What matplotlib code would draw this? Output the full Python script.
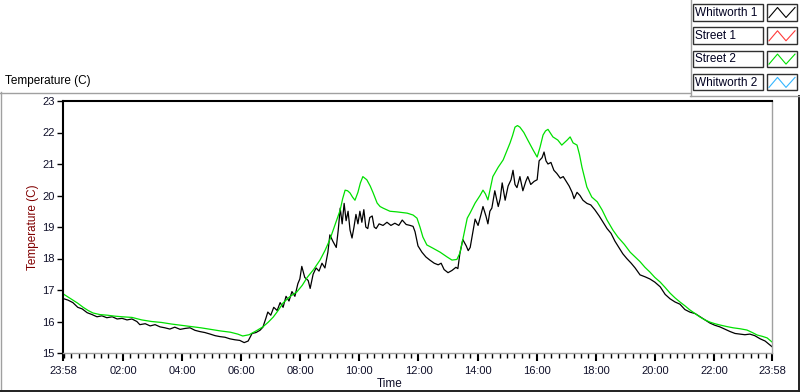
import numpy as np
import matplotlib.pyplot as plt
from matplotlib.patches import Rectangle

plt.rcParams['font.family'] = ['Liberation Sans', 'DejaVu Sans']

# minutes since 23:58 and temperature (C)
black_min = [0, 10, 20, 30, 39, 49, 59, 69, 79, 89, 100, 110, 120, 130, 140, 150, 156,
             167, 177, 187, 197, 207, 217, 227, 238, 248, 258, 268, 278, 288, 299, 309,
             319, 329, 339, 349, 359, 368, 376, 384, 392, 400, 406, 412, 416, 422, 428,
             435, 441, 447, 453, 459, 465, 471, 477, 481, 485, 491, 498, 502, 508, 514,
             520, 526, 532, 538, 542, 548, 555, 559, 563, 567, 571, 575, 579, 583, 587,
             591, 595, 599, 603, 607, 611, 615, 619, 623, 628, 632, 636, 642, 650, 658,
             666, 674, 682, 689, 697, 705, 711, 715, 721, 729, 737, 745, 754, 762, 768,
             774, 782, 790, 798, 802, 806, 812, 819, 823, 827, 833, 837, 843, 849, 853,
             859, 863, 867, 871, 877, 884, 888, 892, 898, 904, 910, 914, 918, 922, 928,
             934, 940, 944, 950, 957, 963, 967, 973, 977, 981, 985, 991, 997, 1003, 1010,
             1016, 1022, 1028, 1034, 1038, 1044, 1050, 1056, 1064, 1072, 1080, 1089, 1097,
             1105, 1113, 1121, 1129, 1137, 1145, 1154, 1162, 1172, 1182, 1192, 1202, 1213,
             1223, 1233, 1243, 1253, 1263, 1273, 1284, 1294, 1304, 1314, 1324, 1334, 1345,
             1355, 1365, 1375, 1385, 1395, 1405, 1416, 1426, 1436, 1440]
black_temp = [16.73, 16.68, 16.6, 16.45, 16.4, 16.28, 16.22, 16.15, 16.18, 16.12, 16.15,
              16.08, 16.1, 16.05, 16.08, 16.0, 15.9, 15.93, 15.86, 15.9, 15.83, 15.8, 15.76,
              15.82, 15.75, 15.78, 15.8, 15.72, 15.68, 15.65, 15.6, 15.55, 15.52, 15.5,
              15.45, 15.42, 15.4, 15.33, 15.38, 15.62, 15.65, 15.72, 15.82, 16.1, 16.3,
              16.2, 16.45, 16.35, 16.6, 16.45, 16.8, 16.65, 16.95, 16.8, 17.2, 17.35, 17.75,
              17.4, 17.3, 17.05, 17.5, 17.7, 17.6, 17.85, 17.7, 18.2, 18.75, 18.55, 18.35,
              18.9, 19.6, 19.1, 19.75, 19.2, 19.5, 18.9, 18.65, 19.0, 19.4, 19.1, 19.5,
              19.15, 19.55, 19.0, 18.95, 19.3, 19.35, 19.0, 18.95, 19.1, 19.05, 19.15, 19.05,
              19.12, 19.05, 19.22, 19.08, 19.05, 19.02, 18.85, 18.4, 18.2, 18.05, 17.95,
              17.85, 17.8, 17.85, 17.65, 17.55, 17.62, 17.72, 17.68, 18.15, 18.6, 18.4,
              18.25, 18.35, 18.9, 19.25, 19.05, 19.4, 19.65, 19.35, 19.1, 19.5, 19.6, 20.15,
              19.65, 19.9, 20.4, 19.85, 20.3, 20.5, 20.8, 20.35, 20.25, 20.6, 20.15, 20.45,
              20.6, 20.35, 20.45, 20.5, 21.1, 21.2, 21.38, 21.1, 21.0, 21.05, 20.8, 20.7,
              20.55, 20.6, 20.45, 20.3, 20.1, 19.9, 20.1, 20.0, 19.85, 19.75, 19.7, 19.55,
              19.35, 19.15, 18.95, 18.8, 18.55, 18.35, 18.15, 18.0, 17.85, 17.7, 17.48,
              17.42, 17.35, 17.25, 17.1, 16.86, 16.72, 16.62, 16.55, 16.38, 16.3, 16.25,
              16.15, 16.05, 15.95, 15.88, 15.83, 15.75, 15.68, 15.62, 15.6, 15.58, 15.6,
              15.55, 15.45, 15.38, 15.25, 15.2]

green_min = [0, 10, 20, 30, 41, 51, 61, 75, 90, 105, 120, 140, 160, 180, 200, 220, 240,
             260, 280, 300, 320, 340, 355, 365, 378, 392, 406, 417, 427, 437, 447, 460,
             475, 486, 496, 509, 522, 532, 542, 552, 563, 568, 573, 578, 583, 588, 593,
             599, 604, 609, 617, 624, 630, 638, 644, 650, 664, 678, 699, 711, 719, 725,
             731, 739, 751, 766, 780, 790, 800, 806, 812, 821, 827, 837, 847, 853, 858,
             863, 873, 884, 894, 901, 908, 913, 918, 923, 928, 936, 944, 955, 963, 969,
             975, 980, 985, 995, 1005, 1013, 1024, 1030, 1036, 1044, 1049, 1054, 1064,
             1074, 1085, 1095, 1105, 1117, 1127, 1140, 1152, 1162, 1172, 1182, 1192, 1202,
             1213, 1223, 1233, 1243, 1253, 1263, 1273, 1284, 1294, 1304, 1314, 1324, 1334,
             1348, 1361, 1375, 1389, 1400, 1410, 1420, 1430, 1440]
green_temp = [16.88, 16.78, 16.68, 16.58, 16.45, 16.35, 16.27, 16.22, 16.2, 16.17, 16.15,
              16.13, 16.05, 16.0, 15.97, 15.92, 15.88, 15.84, 15.8, 15.75, 15.7, 15.66,
              15.6, 15.54, 15.58, 15.7, 15.83, 15.98, 16.14, 16.35, 16.59, 16.78, 16.94,
              17.15, 17.4, 17.65, 17.95, 18.25, 18.6, 19.05, 19.54, 19.9, 20.17, 20.15,
              20.08, 19.95, 19.85, 20.1, 20.4, 20.6, 20.5, 20.3, 20.08, 19.76, 19.65, 19.6,
              19.5, 19.48, 19.44, 19.38, 19.28, 19.0, 18.68, 18.43, 18.33, 18.2, 18.05,
              17.95, 17.97, 18.17, 18.6, 19.28, 19.45, 19.76, 20.0, 20.17, 20.05, 19.86,
              20.6, 20.9, 21.13, 21.4, 21.67, 21.9, 22.17, 22.22, 22.17, 22.0, 21.76, 21.44,
              21.22, 21.54, 21.92, 22.05, 22.1, 21.86, 21.76, 21.6, 21.76, 21.86, 21.67,
              21.6, 21.3, 20.9, 20.27, 19.95, 19.8, 19.54, 19.22, 18.9, 18.68, 18.45, 18.2,
              18.05, 17.9, 17.72, 17.57, 17.4, 17.25, 17.08, 16.9, 16.75, 16.62, 16.5,
              16.37, 16.25, 16.14, 16.05, 15.98, 15.93, 15.89, 15.84, 15.8, 15.77, 15.73,
              15.65, 15.57, 15.53, 15.48, 15.35]

series_names = ["Whitworth 1", "Street 1", "Street 2", "Whitworth 2"]
series_colors = ["#000000", "#ff3a3a", "#00e000", "#33b5ff"]

tick_min = [0, 122, 242, 362, 482, 602, 722, 842, 962, 1082, 1202, 1322, 1440]
tick_labels = ["23:58", "02:00", "04:00", "06:00", "08:00", "10:00", "12:00",
               "14:00", "16:00", "18:00", "20:00", "22:00", "23:58"]

fig = plt.figure(figsize=(8, 3.92), dpi=100)

# frame / legend layer in pixel coordinates
ov = fig.add_axes([0, 0, 1, 1])
ov.set_xlim(0, 800)
ov.set_ylim(392, 0)
ov.axis('off')
ov.plot([0, 690], [92.5, 92.5], color='#a0a0a0', lw=1)
ov.plot([0.5, 0.5], [92, 392], color='#a0a0a0', lw=1)
ov.plot([0, 800], [391.3, 391.3], color='#202020', lw=1.4)
ov.plot([799.3, 799.3], [96, 392], color='#202020', lw=1.4)
ov.plot([690.5, 690.5], [0, 96], color='#a0a0a0', lw=1)
ov.plot([690, 800], [95.5, 95.5], color='#a0a0a0', lw=1)
ov.text(5, 81, "Temperature (C)", fontsize=8.5, va='center', ha='left')

for i, (name, col) in enumerate(zip(series_names, series_colors)):
    top = 4 + 23.3 * i
    ov.add_patch(Rectangle((692.5, top), 70, 16.5, fill=False, ec='#303030', lw=1))
    ov.add_patch(Rectangle((766.5, top), 30.5, 16.5, fill=False, ec='#303030', lw=1))
    ov.text(695, top + 8.6, name, fontsize=8.5, va='center', ha='left', color='#000020')
    ov.plot([769, 777.5, 786, 795], [top + 13.5, top + 3.5, top + 13.5, top + 3.5],
            color=col, lw=0.8)

ax = fig.add_axes([63 / 800, 1 - 353 / 392, 709 / 800, 252 / 392])
ax.plot(black_min, black_temp, color=series_colors[0], lw=0.9)
ax.plot(green_min, green_temp, color=series_colors[2], lw=0.9)

ax.set_xlim(0, 1440)
ax.set_ylim(15, 23)
ax.set_yticks(np.arange(15, 24, 1))
ax.set_xticks(tick_min)
ax.set_xticklabels(tick_labels)
ax.set_xticks(np.arange(2, 1440, 15), minor=True)

for s in ['top', 'left']:
    ax.spines[s].set_color('black')
    ax.spines[s].set_linewidth(1.5)
for s in ['bottom', 'right']:
    ax.spines[s].set_color('#a0a0a0')
    ax.spines[s].set_linewidth(1)

ax.tick_params(axis='y', direction='out', length=4, width=1, color='black',
               labelsize=8, labelcolor='#10102a', pad=2)
ax.tick_params(axis='x', which='major', direction='out', length=6, width=1.5,
               color='black', labelsize=8, labelcolor='#10102a', pad=3)
ax.tick_params(axis='x', which='minor', direction='out', length=3.5, width=1,
               color='black')

fig.text(33 / 800, 1 - 227 / 392, "Temperature (C)", rotation=90, fontsize=8.5,
         color='#800000', ha='center', va='center')
fig.text(390 / 800, 1 - 384 / 392, "Time", fontsize=8.5, color='#10102a',
         ha='center', va='center')

fig.savefig("out.png", dpi=100)
